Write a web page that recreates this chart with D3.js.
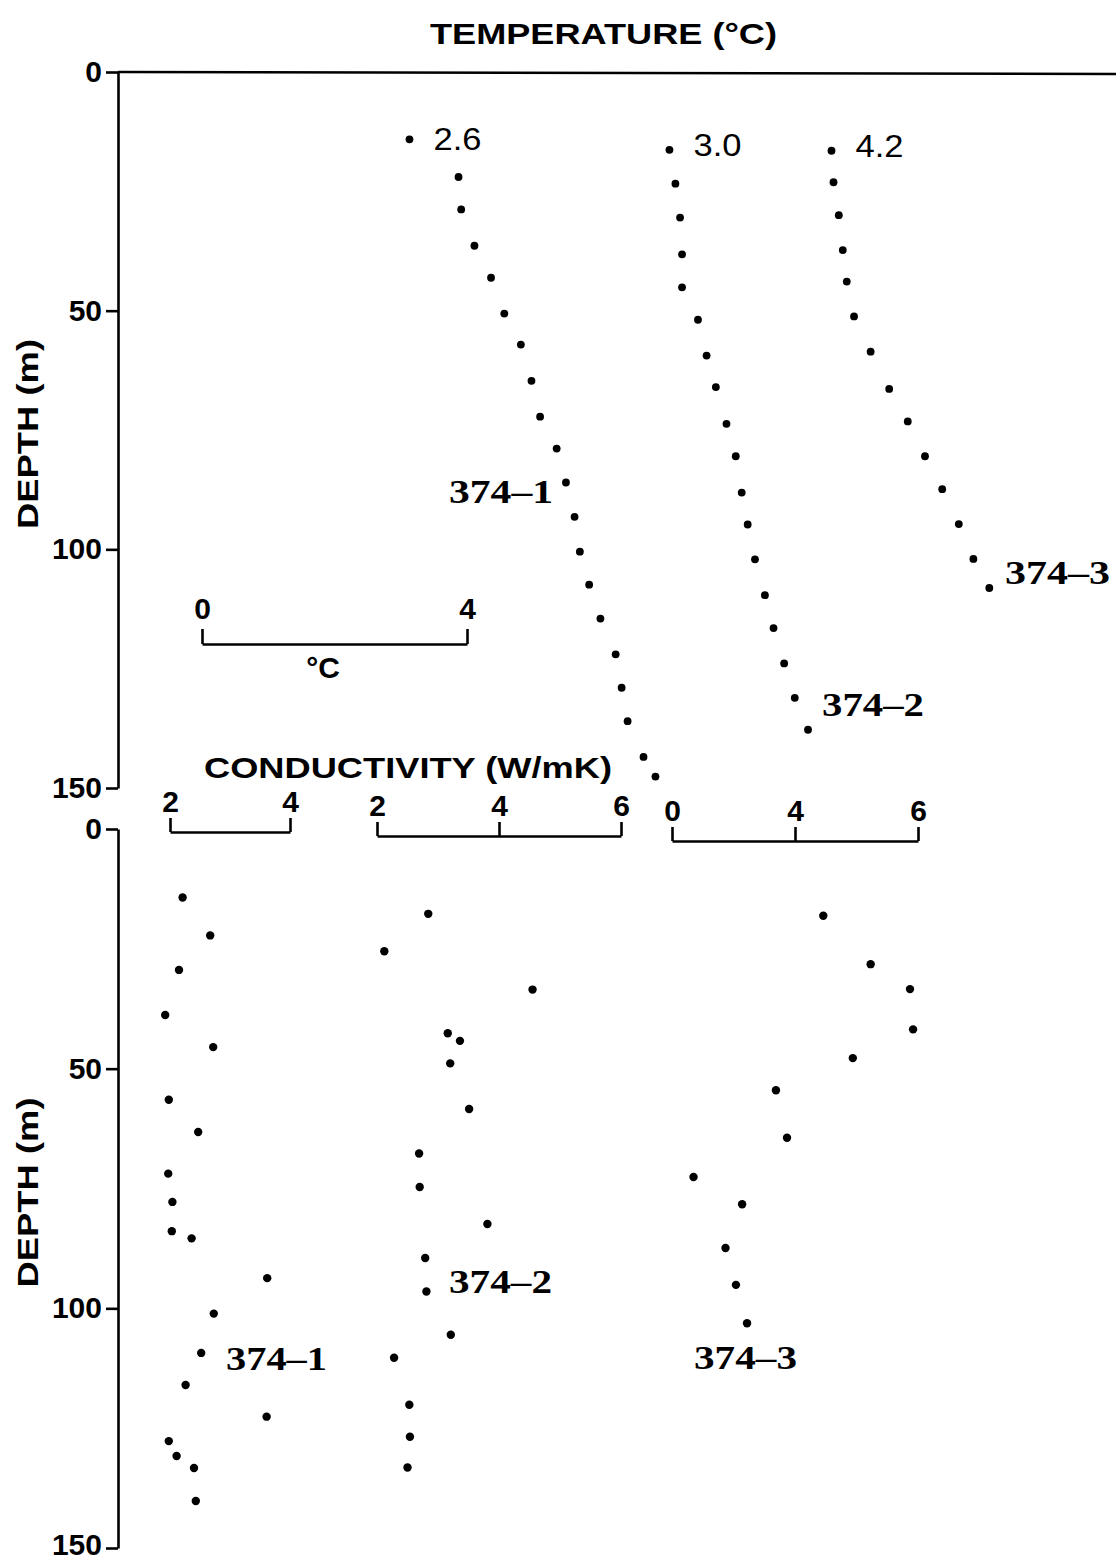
<!DOCTYPE html>
<html>
<head>
<meta charset="utf-8">
<script src="https://cdn.jsdelivr.net/npm/d3@7"></script>
<style>
    body { margin: 0; background: #fff; }
    text { font-family: "Liberation Sans", Arial, sans-serif; font-weight: bold; fill: #000; }
    .site { font-family: "Liberation Serif", "Times New Roman", serif; font-weight: bold; }
    .start { font-weight: normal; }
</style>
</head>
<body>
<div id="chart"></div>
<script>
// temperature profiles, depth (m) / temperature (deg C)
var t1Depth = [14.1, 22.0, 28.8, 36.4, 43.1, 50.6, 57.1, 64.7, 72.2, 78.9, 86.0, 93.2, 100.5, 107.4, 114.5, 122.0, 129.0, 136.0, 143.5, 147.6];
var t1Temp  = [2.60, 3.34, 3.38, 3.58, 3.83, 4.03, 4.28, 4.44, 4.57, 4.82, 4.96, 5.09, 5.17, 5.31, 5.48, 5.71, 5.80, 5.89, 6.13, 6.31];
var t2Depth = [16.3, 23.4, 30.5, 38.2, 45.1, 51.9, 59.4, 66.0, 73.7, 80.5, 88.1, 94.8, 102.1, 109.6, 116.5, 123.9, 131.1, 137.8];
var t2Temp  = [3.00, 3.09, 3.16, 3.19, 3.19, 3.43, 3.56, 3.70, 3.86, 4.00, 4.09, 4.18, 4.29, 4.44, 4.57, 4.73, 4.89, 5.09];
var t3Depth = [16.5, 23.1, 30.0, 37.3, 43.9, 51.2, 58.6, 66.4, 73.2, 80.5, 87.4, 94.7, 102.0, 108.1];
var t3Temp  = [4.20, 4.23, 4.31, 4.37, 4.43, 4.54, 4.79, 5.07, 5.35, 5.61, 5.87, 6.12, 6.34, 6.58];

// conductivity profiles, depth (m) / conductivity (W/mK)
var k1Depth = [14.3, 22.2, 29.4, 38.8, 45.5, 56.5, 63.2, 71.9, 77.8, 83.9, 85.4, 93.7, 101.1, 109.3, 116.0, 122.6, 127.7, 130.8, 133.3, 140.2];
var k1Value = [2.21, 2.67, 2.15, 1.92, 2.72, 1.98, 2.47, 1.97, 2.04, 2.03, 2.36, 3.62, 2.73, 2.52, 2.26, 3.61, 1.98, 2.11, 2.40, 2.43];
var k2Depth = [17.7, 25.5, 33.5, 42.6, 44.2, 48.9, 58.4, 67.7, 74.7, 82.4, 89.5, 96.5, 105.5, 110.3, 120.1, 126.8, 133.2];
var k2Value = [2.84, 2.12, 4.55, 3.16, 3.36, 3.20, 3.51, 2.69, 2.70, 3.81, 2.79, 2.81, 3.21, 2.28, 2.53, 2.54, 2.50];
var k3Depth = [18.1, 28.2, 33.4, 41.8, 47.8, 54.5, 64.4, 72.6, 78.3, 87.4, 95.1, 103.1];
var k3Value = [4.46, 5.23, 5.87, 5.92, 4.94, 3.69, 3.87, 2.35, 3.14, 2.87, 3.04, 3.22];

// ticks and labels
var depthTicks = [0, 50, 100, 150];
var tempLegendTicks = [0, 4];
var k1Ticks = [2, 4];
var k2Ticks = [2, 4, 6];
var k3Ticks = [2, 4, 6];
var k3TickLabels = ["0", "4", "6"];   // printed this way on the original
var siteNames = ["374\u20131", "374\u20132", "374\u20133"];

var width = 1116, height = 1562;
var svg = d3.select("#chart").append("svg")
    .attr("width", width)
    .attr("height", height);
svg.append("rect").attr("width", width).attr("height", height).attr("fill", "#fff");

var axisX = 118;
var yTop = d3.scaleLinear().domain([0, 150]).range([72, 788]);
var yBot = d3.scaleLinear().domain([0, 150]).range([829, 1548]);

function styleAxis(g, size) {
    g.attr("font-family", null).attr("font-size", null);
    g.select(".domain").attr("stroke-width", 2.6);
    g.selectAll(".tick line").attr("stroke-width", 2.6);
    g.selectAll(".tick text").style("font-size", size + "px").style("font-weight", "bold");
}

// depth axes
[yTop, yBot].forEach(function (y, k) {
    var g = svg.append("g").attr("transform", "translate(" + axisX + ",0)")
        .call(d3.axisLeft(y).tickValues(depthTicks).tickSize(12).tickSizeOuter(0).tickPadding(4).tickFormat(d3.format("d")));
    styleAxis(g, 30);
    if (k == 1) g.selectAll(".tick text").filter(d => d == 150).attr("dy", "0.2em");

    var mid = (y.range()[0] + y.range()[1]) / 2 + 4;
    svg.append("text")
        .attr("transform", "translate(38," + mid + ") rotate(-90)")
        .attr("text-anchor", "middle")
        .attr("textLength", 190).attr("lengthAdjust", "spacingAndGlyphs")
        .style("font-size", "30px")
        .text("DEPTH (m)");
});

// zero depth line across the top
svg.append("line")
    .attr("x1", axisX).attr("x2", width)
    .attr("y1", yTop(0)).attr("y2", yTop(0) + 2)
    .attr("stroke", "#000").attr("stroke-width", 2.6);

svg.append("text").attr("x", 430).attr("y", 44)
    .attr("textLength", 347).attr("lengthAdjust", "spacingAndGlyphs")
    .style("font-size", "30px")
    .text("TEMPERATURE (\u00B0C)");

// temperature profiles, each on its own offset scale (66.3 px per degree)
var tempOrigins = [237.1, 470.55, 553.05];
var tempProfiles = [
    { depth: t1Depth, value: t1Temp, name: siteNames[0], lx: 449, ly: 503, lw: 104 },
    { depth: t2Depth, value: t2Temp, name: siteNames[1], lx: 822, ly: 716, lw: 102 },
    { depth: t3Depth, value: t3Temp, name: siteNames[2], lx: 1005, ly: 584, lw: 105 }
];
var startLabelY = [150, 156, 157];

tempProfiles.forEach(function (p, i) {
    var x = d3.scaleLinear().domain([0, 4]).range([tempOrigins[i], tempOrigins[i] + 265.2]);
    svg.append("g").selectAll("circle")
        .data(d3.range(p.depth.length))
        .join("circle")
        .attr("cx", j => x(p.value[j]))
        .attr("cy", j => yTop(p.depth[j]))
        .attr("r", 3.9)
        .attr("fill", "#000");

    svg.append("text").attr("class", "start")
        .attr("x", x(p.value[0]) + 24).attr("y", startLabelY[i])
        .attr("textLength", 48).attr("lengthAdjust", "spacingAndGlyphs")
        .style("font-size", "31px")
        .text(d3.format(".1f")(p.value[0]));

    svg.append("text").attr("class", "site")
        .attr("x", p.lx).attr("y", p.ly)
        .attr("textLength", p.lw).attr("lengthAdjust", "spacingAndGlyphs")
        .style("font-size", "33px")
        .text(p.name);
});

// temperature scale bar
var tempLegend = d3.scaleLinear().domain([0, 4]).range([202, 467]);
var gl = svg.append("g").attr("transform", "translate(0,644)")
    .call(d3.axisTop(tempLegend).tickValues(tempLegendTicks).tickSize(15).tickSizeOuter(0).tickPadding(10).tickFormat(d3.format("d")));
styleAxis(gl, 30);
svg.append("text").attr("x", 323).attr("y", 678).attr("text-anchor", "middle")
    .style("font-size", "30px")
    .text("\u00B0C");

// conductivity
svg.append("text").attr("x", 204).attr("y", 778)
    .attr("textLength", 408).attr("lengthAdjust", "spacingAndGlyphs")
    .style("font-size", "30px")
    .text("CONDUCTIVITY (W/mK)");

var condProfiles = [
    { depth: k1Depth, value: k1Value, ticks: k1Ticks, labels: null, domain: [2, 4], range: [170, 290], barY: 832, name: siteNames[0], lx: 226, ly: 1370, lw: 101 },
    { depth: k2Depth, value: k2Value, ticks: k2Ticks, labels: null, domain: [2, 6], range: [377, 621], barY: 836, name: siteNames[1], lx: 449, ly: 1293, lw: 103 },
    { depth: k3Depth, value: k3Value, ticks: k3Ticks, labels: k3TickLabels, domain: [2, 6], range: [672, 918], barY: 841, name: siteNames[2], lx: 694, ly: 1369, lw: 103 }
];

condProfiles.forEach(function (p) {
    var x = d3.scaleLinear().domain(p.domain).range(p.range);
    var axis = d3.axisTop(x).tickValues(p.ticks).tickSize(14).tickSizeOuter(0).tickPadding(6);
    if (p.labels) axis.tickFormat((d, i) => p.labels[i]);
    else axis.tickFormat(d3.format("d"));
    var g = svg.append("g").attr("transform", "translate(0," + p.barY + ")").call(axis);
    styleAxis(g, 30);

    svg.append("g").selectAll("circle")
        .data(d3.range(p.depth.length))
        .join("circle")
        .attr("cx", j => x(p.value[j]))
        .attr("cy", j => yBot(p.depth[j]))
        .attr("r", 4.2)
        .attr("fill", "#000");

    svg.append("text").attr("class", "site")
        .attr("x", p.lx).attr("y", p.ly)
        .attr("textLength", p.lw).attr("lengthAdjust", "spacingAndGlyphs")
        .style("font-size", "33px")
        .text(p.name);
});
</script>
</body>
</html>
